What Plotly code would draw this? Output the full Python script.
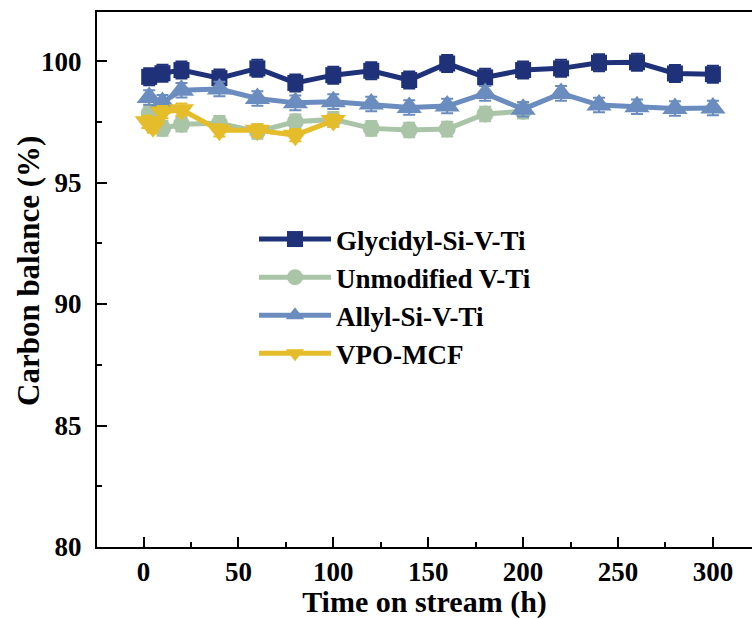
import plotly.graph_objects as go

# ---- data ----
gly_x = [3, 10, 20, 40, 60, 80, 100, 120, 140, 160, 180, 200, 220, 240, 260, 280, 300]
gly_y = [99.35, 99.5, 99.63, 99.3, 99.7, 99.1, 99.42, 99.6, 99.22, 99.9, 99.33, 99.63, 99.7, 99.93, 99.95, 99.49, 99.46]
gly_err = [0.35] * len(gly_x)

unm_x = [3, 10, 20, 40, 60, 80, 100, 120, 140, 160, 180, 200]
unm_y = [97.85, 97.23, 97.4, 97.44, 97.1, 97.5, 97.6, 97.23, 97.16, 97.2, 97.82, 97.94]
unm_err = [0.3] * len(unm_x)

all_x = [3, 10, 20, 40, 60, 80, 100, 120, 140, 160, 180, 200, 220, 240, 260, 280, 300]
all_y = [98.5, 98.3, 98.8, 98.85, 98.46, 98.28, 98.33, 98.23, 98.09, 98.15, 98.67, 98.02, 98.67, 98.19, 98.12, 98.05, 98.07]
all_err = [0.3] * len(all_x)

vpo_x = [2, 5, 10, 20, 40, 60, 80, 100]
vpo_y = [97.5, 97.3, 97.9, 98.0, 97.15, 97.15, 96.95, 97.55]
vpo_err = [0.25] * len(vpo_x)

series = [
    ("Glycidyl-Si-V-Ti", gly_x, gly_y, gly_err, "#1F3279", "square", 16),
    ("Unmodified V-Ti", unm_x, unm_y, unm_err, "#A9C4A6", "circle", 17),
    ("Allyl-Si-V-Ti", all_x, all_y, all_err, "#6B8CBE", "triangle-up", 22),
    ("VPO-MCF", vpo_x, vpo_y, vpo_err, "#E5BD2B", "triangle-down", 22),
]

FONT = "Liberation Serif"

fig = go.Figure()
for name, x, y, e, col, sym, size in series:
    fig.add_trace(go.Scatter(
        x=x, y=y, name=name, mode="lines+markers",
        line=dict(color=col, width=5),
        marker=dict(symbol=sym, size=size, color=col, line=dict(width=0)),
        error_y=dict(type="data", array=e, visible=True, color=col, thickness=2, width=6),
    ))

fig.update_layout(
    width=752, height=619,
    margin=dict(l=97, r=0, t=12, b=72),
    paper_bgcolor="white", plot_bgcolor="white",
    font=dict(family=FONT, color="black"),
    showlegend=True,
    legend=dict(
        x=(254 - 97) / 655, y=(547 - 215) / 535, xanchor="left", yanchor="top",
        font=dict(family=FONT, size=27, color="black", weight="bold"),
        bgcolor="rgba(0,0,0,0)", borderwidth=0, itemwidth=72, tracegroupgap=0,
    ),
    xaxis=dict(
        range=[-24.5, 320.6], tickvals=[0, 50, 100, 150, 200, 250, 300],
        ticks="inside", ticklen=10, tickwidth=2, tickcolor="black",
        minor=dict(tickvals=[25, 75, 125, 175, 225, 275], ticks="inside", ticklen=5, tickwidth=2, tickcolor="black"),
        showline=True, linewidth=2, linecolor="black", mirror=True,
        showgrid=False, zeroline=False,
        tickfont=dict(family=FONT, size=27, color="black", weight="bold"),
        title=dict(text="Time on stream (h)", font=dict(family=FONT, size=30, color="black", weight="bold"), standoff=3),
    ),
    yaxis=dict(
        range=[80, 102.02], tickvals=[80, 85, 90, 95, 100],
        ticks="inside", ticklen=10, tickwidth=2, tickcolor="black",
        minor=dict(tickvals=[82.5, 87.5, 92.5, 97.5], ticks="inside", ticklen=5, tickwidth=2, tickcolor="black"),
        showline=True, linewidth=2, linecolor="black", mirror=False,
        showgrid=False, zeroline=False, ticklabelstandoff=8,
        tickfont=dict(family=FONT, size=27, color="black", weight="bold"),
    ),
    annotations=[dict(
        text="Carbon balance (%)", textangle=-90, showarrow=False,
        xref="paper", yref="paper", x=(28 - 97) / 655, y=(547 - 271) / 535,
        xanchor="center", yanchor="middle",
        font=dict(family=FONT, size=31, color="black", weight="bold"),
    )],
)

fig.write_html("out.html")
